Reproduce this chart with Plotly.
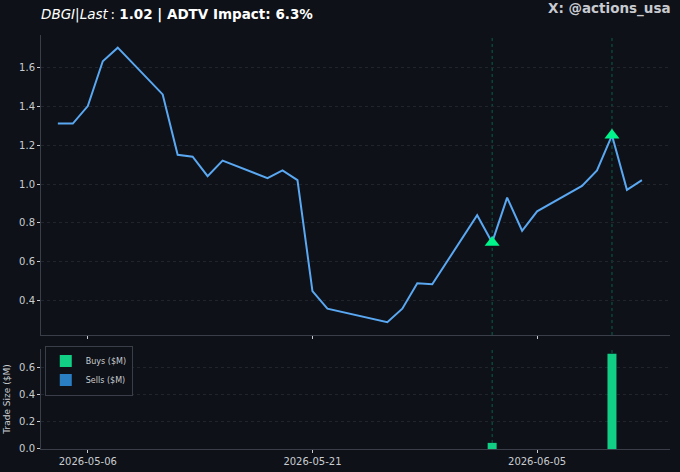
import plotly.graph_objects as go
from plotly.subplots import make_subplots

# price series (trading days only)
dates = ['2026-05-04', '2026-05-05', '2026-05-06', '2026-05-07', '2026-05-08',
         '2026-05-11', '2026-05-12', '2026-05-13', '2026-05-14', '2026-05-15',
         '2026-05-18', '2026-05-19', '2026-05-20', '2026-05-21', '2026-05-22',
         '2026-05-26', '2026-05-27', '2026-05-28', '2026-05-29',
         '2026-06-01', '2026-06-02', '2026-06-03', '2026-06-04', '2026-06-05',
         '2026-06-08', '2026-06-09', '2026-06-10', '2026-06-11', '2026-06-12']
prices = [1.31, 1.31, 1.40, 1.63, 1.70,
          1.46, 1.15, 1.14, 1.04, 1.12,
          1.03, 1.07, 1.02, 0.45, 0.36,
          0.29, 0.36, 0.49, 0.485,
          0.84, 0.70, 0.93, 0.76, 0.86,
          0.99, 1.07, 1.25, 0.97, 1.02]

# buys
buy_dates = ['2026-06-02', '2026-06-10']
buy_prices = [0.70, 1.25]
buy_sizes = [0.045, 0.70]

# sells (none in this window)
sell_dates = []
sell_sizes = []

bg = '#0e1117'
txt = '#c9ccd1'
grid = '#20242c'
spine = '#3a3e48'
day_ms = 86400000

fig = make_subplots(rows=2, cols=1, shared_xaxes=True, vertical_spacing=0.034,
                    row_heights=[0.75, 0.25])

fig.add_trace(go.Scatter(x=dates, y=prices, mode='lines',
                         line=dict(color='#5aa7f2', width=2), showlegend=False),
              row=1, col=1)
fig.add_trace(go.Scatter(x=buy_dates, y=buy_prices, mode='markers',
                         marker=dict(symbol='triangle-up', size=13, color='#00f58a'),
                         showlegend=False),
              row=1, col=1)

fig.add_trace(go.Bar(x=buy_dates, y=buy_sizes, name='Buys ($M)',
                     marker=dict(color='#12cf86', line=dict(width=0)),
                     width=0.6 * day_ms),
              row=2, col=1)
# empty sells still need a legend entry
fig.add_trace(go.Bar(x=sell_dates or [None], y=sell_sizes or [None], name='Sells ($M)',
                     marker=dict(color='#2a7fc4', line=dict(width=0)),
                     width=0.6 * day_ms),
              row=2, col=1)

# dotted markers for trade days in both panels
for d in buy_dates:
    for yr in ['y domain', 'y2 domain']:
        fig.add_shape(type='line', xref='x', yref=yr, x0=d, x1=d, y0=0, y1=1,
                      line=dict(color='rgba(0,190,140,0.45)', width=1, dash='dot'),
                      layer='below')

axis_common = dict(showline=True, linecolor=spine, linewidth=1, ticks='outside',
                   tickcolor=txt, ticklen=3, tickfont=dict(size=10, color=txt),
                   zeroline=False, mirror=False, automargin=False)

fig.update_xaxes(**axis_common, type='date', showgrid=False,
                 range=['2026-05-02 21:00', '2026-06-13 21:00'],
                 tick0='2026-05-06', dtick=15 * day_ms, tickformat='%Y-%m-%d')
fig.update_xaxes(showticklabels=False, row=1, col=1)

fig.update_yaxes(**axis_common, showgrid=True, gridcolor=grid, griddash='dot',
                 gridwidth=1, tickformat='.1f')
fig.update_yaxes(range=[0.225, 1.765], dtick=0.2, tick0=0.4, row=1, col=1)
fig.update_yaxes(range=[0, 0.735], dtick=0.2, row=2, col=1,
                 title=dict(text='Trade Size ($M)', font=dict(size=9, color=txt),
                            standoff=6))

fig.update_layout(
    width=680, height=472,
    paper_bgcolor=bg, plot_bgcolor=bg,
    font=dict(family='DejaVu Sans', color=txt),
    margin=dict(l=41, r=10, t=35, b=23, autoexpand=False),
    barmode='overlay',
    title=dict(text='<i>DBGI|Last</i>\u2009: <b>1.02 | ADTV Impact: 6.3%</b>',
               x=41 / 680, xanchor='left', y=1 - 14 / 472, yanchor='middle',
               font=dict(size=13.5, color='#ffffff', family='DejaVu Sans')),
    legend=dict(x=0.006, y=0.25, xanchor='left', yanchor='top',
                bgcolor='#0e1117', bordercolor='#3a3e48', borderwidth=1,
                font=dict(size=8, color=txt), itemwidth=30,
                tracegroupgap=0),
    annotations=[dict(text='<b>X: @actions_usa</b>', xref='paper', yref='paper',
                      x=1.005, y=1.063, xanchor='right', yanchor='middle',
                      showarrow=False,
                      font=dict(size=13.5, color='#c8cad0', family='DejaVu Sans'))],
)

# drop the default page margin so the figure sits at the window corner
fig.write_html("out.html", config={'displayModeBar': False},
               post_script="document.body.style.margin='0';")
